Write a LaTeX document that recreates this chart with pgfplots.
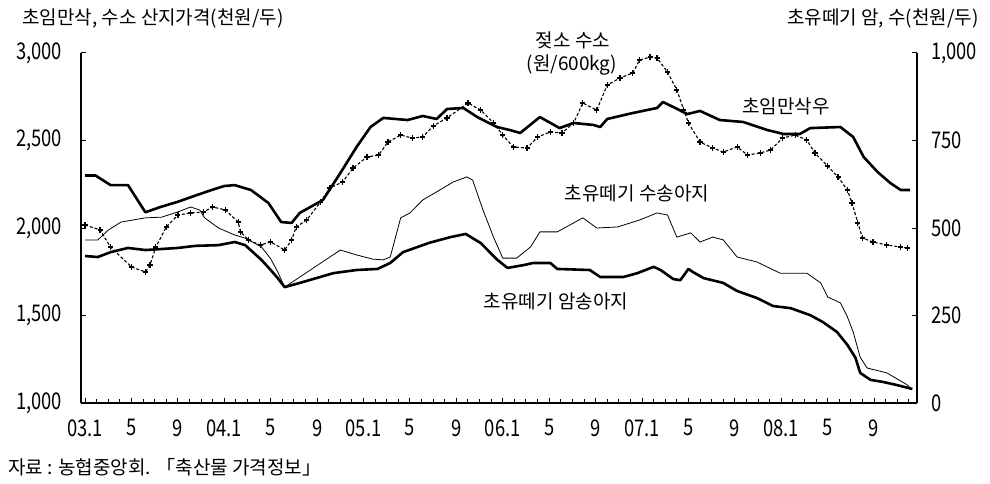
\documentclass[border=0pt]{standalone}
\usepackage{pgfplots}
\pgfplotsset{compat=1.18}
\usepackage{fontspec}
\setmainfont{Noto Sans CJK KR}

\pgfplotsset{
  common/.style={
    at={(81pt,80pt)}, anchor=south west,
    width=836pt, height=350pt, scale only axis,
    xmin=-0.35, xmax=71.7,
    axis line style={line width=1.2pt, black},
    tick align=inside,
    major tick length=5pt, minor tick length=4pt,
    tick style={black, line width=1pt},
    /pgf/number format/1000 sep={,},
    /pgf/number format/assume math mode=true,
    tick label style={font=\fontsize{23}{26}\selectfont, xscale=0.8},
    clip=false,
  }
}

\begin{document}
\begin{tikzpicture}
\useasboundingbox (0,0) rectangle (990pt,483pt);
\begin{axis}[
  common,
  ymin=1000, ymax=3000,
  axis x line*=bottom, axis y line*=left,
  xtick={0,4,...,68},
  xticklabels={03.1,5,9,04.1,5,9,05.1,5,9,06.1,5,9,07.1,5,9,08.1,5,9},
  minor xtick={0,1,...,71},
  ytick={1000,1500,2000,2500,3000},
  xticklabel style={yshift=-13pt},
  yticklabel style={xshift=-20pt},
]
% 초임만삭우
\addplot[black, line width=2.6pt, line join=round] coordinates {
(0,2300)(0.9,2300)(2.2,2245)(3.7,2245)(5.2,2090)(6.5,2120)(8,2150)(9.5,2185)(10.9,2217)(12,2240)(12.9,2245)(14.3,2217)(15.8,2143)(16.9,2034)(17.8,2029)(18.5,2086)(20.5,2160)(22,2314)(23.4,2463)(24.6,2577)(25.7,2629)(27.8,2617)(29.1,2640)(30.3,2623)(31.2,2680)(32.6,2686)(33.8,2634)(35.5,2577)(36.6,2560)(37.5,2543)(39.2,2634)(40.9,2571)(42.1,2600)(43.8,2589)(44.4,2577)(45,2623)(47.2,2657)(49.3,2686)(49.8,2720)(50.7,2691)(51.9,2651)(53,2669)(54.7,2617)(56.7,2606)(58.8,2560)(60.2,2537)(61.6,2537)(62.5,2571)(65.1,2577)(66.2,2520)(67.1,2406)(68.3,2320)(69.4,2257)(70.3,2217)(71.1,2217)
};
% 젖소 수소
\addplot[black, line width=1.1pt, densely dashed, mark=+, mark size=2.6pt, mark options={solid, line width=1.3pt}] coordinates {
(0,2017)(1.3,1989)(2.2,1891)(4,1777)(5.2,1749)(5.6,1789)(6.1,1891)(7,2006)(8,2074)(9.1,2086)(10.2,2091)(11,2120)(12.1,2103)(13.2,2034)(13.4,1977)(14.1,1931)(15.1,1903)(16,1920)(17.2,1874)(17.8,1931)(18.2,2006)(19.1,2046)(20.3,2149)(21.1,2229)(22.2,2263)(23.1,2343)(24.3,2406)(25.3,2417)(26.1,2491)(27.2,2531)(28.2,2514)(29.1,2520)(30,2583)(31.2,2629)(33,2714)(34.1,2674)(35.2,2600)(36,2531)(36.9,2463)(38.1,2457)(39,2520)(40.1,2549)(41.1,2543)(42.1,2600)(42.9,2714)(44.1,2674)(45,2817)(46.1,2857)(47.2,2886)(47.8,2960)(48.7,2977)(49.3,2971)(50.2,2891)(51,2789)(51.6,2674)(52,2600)(53,2491)(54.1,2457)(55,2434)(56.2,2463)(57.1,2417)(58.2,2429)(59.1,2446)(60.1,2514)(61.2,2531)(62.2,2503)(62.9,2429)(64,2354)(64.9,2291)(65.7,2217)(66.1,2143)(66.6,2029)(67,1943)(67.9,1920)(69.1,1903)(70.3,1891)(70.9,1886)
};
\end{axis}
\begin{axis}[
  common,
  ymin=0, ymax=1000,
  axis y line*=right, axis x line=none,
  ytick={0,250,500,750,1000},
  yticklabel style={xshift=14pt},
]
% 초유떼기 수송아지
\addplot[black, line width=0.8pt] coordinates {
(0,466)(1.1,466)(2,494)(3.1,517)(5.2,529)(6.6,531)(8,546)(9.1,560)(9.9,551)(10.3,529)(11.5,500)(12.9,480)(13.8,471)(15.2,446)(16,412)(16.6,375)(17.2,331)(22,437)(23.4,423)(24.8,411)(25.7,409)(26.3,417)(27.2,529)(28,543)(29.1,580)(30.6,609)(31.7,631)(32.9,646)(33.4,637)(34.3,551)(35.2,474)(36,414)(37.2,414)(38.4,446)(39.2,489)(40.7,489)(42.9,529)(44.1,500)(45.9,503)(47.8,523)(49.3,543)(50.2,537)(51,474)(52.2,486)(53,460)(54.1,474)(55,466)(56.2,417)(57.9,403)(59.9,371)(62.2,371)(63.4,343)(64,303)(65.1,286)(65.7,246)(66.2,203)(66.8,131)(67.4,100)(69.1,86)(70.9,51)(71.1,43)
};
% 초유떼기 암송아지
\addplot[black, line width=2.6pt, line join=round] coordinates {
(0,420)(1.1,417)(2.2,431)(3.7,443)(5.2,437)(8,443)(9.5,449)(11.5,451)(12.9,460)(13.8,451)(15.2,409)(16,380)(16.6,357)(17.2,331)(18.5,343)(21.4,371)(23.4,380)(25.2,383)(26.3,400)(27.4,431)(29.7,458)(31.5,474)(32.8,483)(34.1,457)(35.5,410)(36.4,386)(37.8,394)(38.6,400)(40.1,400)(40.7,383)(43.5,380)(44.4,360)(46.4,360)(47.6,371)(49,389)(49.6,380)(50.7,354)(51.3,351)(52,383)(52.4,374)(53.3,357)(55,343)(56.2,320)(57.9,300)(59.3,277)(60.8,271)(62.5,251)(63.6,231)(64.8,203)(65.7,166)(66.4,129)(66.8,86)(67.7,66)(68.8,60)(70,51)(71.3,40)
};
\end{axis}
\begin{scope}[every node/.style={font=\fontsize{19}{22}\selectfont, inner sep=0pt}]
\node at (153pt,464pt) {초임만삭, 수소 산지가격(천원/두)};
\node at (883pt,464pt) {초유떼기 암, 수(천원/두)};
\node at (573pt,443pt) {젖소 수소};
\node at (572pt,418pt) {(원/600kg)};
\node at (786pt,377pt) {초임만삭우};
\node at (637pt,290pt) {초유떼기 수송아지};
\node at (556pt,182pt) {초유떼기 암송아지};
\node[anchor=west] at (8pt,16pt) {자료 : 농협중앙회. 「축산물 가격정보」};
\end{scope}
\end{tikzpicture}
\end{document}
